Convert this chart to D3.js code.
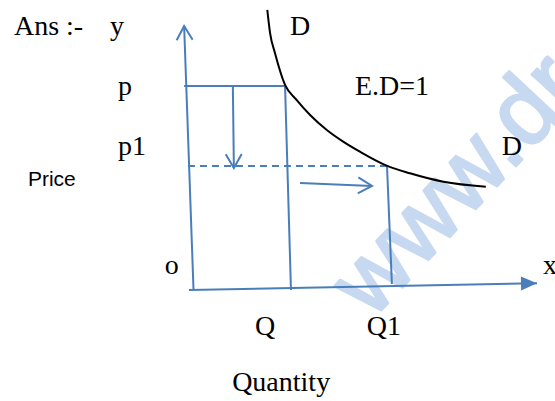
<!DOCTYPE html>
<html><head><meta charset="utf-8">
<script src="https://cdn.jsdelivr.net/npm/d3@7"></script>
<style>
html,body{margin:0;padding:0;background:#fff;}
svg{display:block;}
</style></head>
<body>
<svg id="c" width="555" height="401"></svg>
<script>
// ---- data (chart units: quantity 0..100, price 0..100) ----
const yAxisLine = [[1.3, 0], [-1.4, 100]];
const xAxisLine = [[0, 0], [100, 2.6]];
const priceP = 77.3, priceP1 = 47.0;
const qtyQ = [27.6, 29.3], qtyQ1 = [56.9, 58.3];
const pLine = [[-1.4, priceP], [qtyQ[0], priceP]];
const qLine = [[qtyQ[0], priceP], [qtyQ[1], 0]];
const p1Line = [[-0.3, priceP1], [qtyQ1[0], priceP1]];
const q1Line = [[qtyQ1[0], priceP1], [qtyQ1[1], 2.3]];
const downArrow = [[12.6, priceP], [12.9, 46.2]];
const rightArrow = [[31.9, 40.5], [52.6, 39.4]];
const demandCurve = [[22.5, 106.1], [23.3, 97.3], [24.7, 89.8], [27.6, 77.7], [30.9, 72.0],
                     [34.8, 66.3], [39.6, 60.6], [44.3, 56.2], [49.1, 52.4], [56.8, 47.1],
                     [63.5, 44.2], [73.1, 41.0], [85.3, 39.1]];
const serifLabels = [
  {t: "Ans :-", x: -50.3, y: 96.6},
  {t: "y", x: -22.7, y: 96.6},
  {t: "p", x: -20.4, y: 73.9},
  {t: "p1", x: -20.4, y: 51.1},
  {t: "o", x: -7.0, y: 6.1},
  {t: "Q", x: 19.0, y: -17.0},
  {t: "Q1", x: 51.1, y: -17.0},
  {t: "Quantity", x: 12.4, y: -38.3},
  {t: "D", x: 29.0, y: 96.6},
  {t: "E.D=1", x: 47.7, y: 73.9},
  {t: "D", x: 89.9, y: 51.1},
  {t: "x", x: 101.7, y: 6.1}
];
const sansLabels = [{t: "Price", x: -46.3, y: 39.4}];
const watermark = "www.dr";

// ---- scales ----
const x = d3.scaleLinear().domain([0, 100]).range([189, 537]);
const y = d3.scaleLinear().domain([0, 100]).range([290, 26]);
const svg = d3.select("#c");
const blue = "#4a7ebb";
const line = d3.line().x(d => x(d[0])).y(d => y(d[1]));

// watermark
svg.append("text")
  .attr("transform", `translate(${x(52.5)},${y(-11.6)}) rotate(-47)`)
  .attr("font-family", "Liberation Sans, Arial, sans-serif")
  .attr("font-size", 96)
  .attr("fill", "#c6d9f0").attr("stroke", "#c6d9f0").attr("stroke-width", 2.5)
  .attr("stroke-linejoin", "round")
  .text(watermark);

// arrowhead markers
const defs = svg.append("defs");
defs.append("marker").attr("id", "open").attr("viewBox", "0 0 20 20")
  .attr("refX", 18).attr("refY", 10).attr("markerWidth", 20).attr("markerHeight", 20)
  .attr("markerUnits", "userSpaceOnUse").attr("orient", "auto")
  .append("path").attr("d", "M4,2 L18,10 L4,18").attr("fill", "none")
  .attr("stroke", blue).attr("stroke-width", 2);
defs.append("marker").attr("id", "tri").attr("viewBox", "0 0 20 20")
  .attr("refX", 18).attr("refY", 10).attr("markerWidth", 20).attr("markerHeight", 20)
  .attr("markerUnits", "userSpaceOnUse").attr("orient", "auto")
  .append("path").attr("d", "M2,3 L18,10 L2,17 Z").attr("fill", blue);

function seg(pts, opts) {
  const p = svg.append("path").attr("d", line(pts)).attr("fill", "none")
    .attr("stroke", opts.color || blue).attr("stroke-width", opts.w || 2);
  if (opts.dash) p.attr("stroke-dasharray", opts.dash);
  if (opts.marker) p.attr("marker-end", `url(#${opts.marker})`);
  return p;
}

seg(yAxisLine, {marker: "open"});
seg(xAxisLine, {marker: "tri"});
seg(pLine, {});
seg(qLine, {});
seg(p1Line, {dash: "7,5"});
seg(q1Line, {});
seg(downArrow, {marker: "open"});
seg(rightArrow, {marker: "open"});

svg.append("path")
  .attr("d", d3.line().x(d => x(d[0])).y(d => y(d[1])).curve(d3.curveMonotoneX)(demandCurve))
  .attr("fill", "none").attr("stroke", "#000").attr("stroke-width", 2);

svg.selectAll("text.serif").data(serifLabels).join("text").attr("class", "serif")
  .attr("x", d => x(d.x)).attr("y", d => y(d.y))
  .attr("font-family", "Liberation Serif, Times New Roman, serif")
  .attr("font-size", 28).attr("fill", "#000").text(d => d.t);

svg.selectAll("text.sans").data(sansLabels).join("text").attr("class", "sans")
  .attr("x", d => x(d.x)).attr("y", d => y(d.y))
  .attr("font-family", "Liberation Sans, Arial, sans-serif")
  .attr("font-size", 21).attr("fill", "#000").text(d => d.t);
</script>
</body></html>
